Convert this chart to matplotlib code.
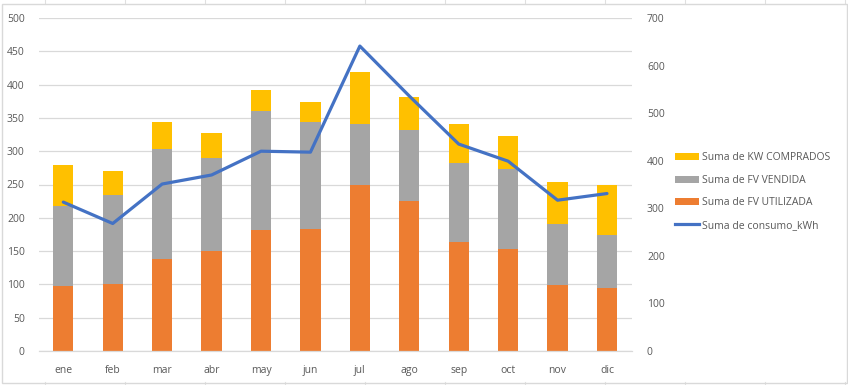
import matplotlib
matplotlib.use("Agg")
import matplotlib.pyplot as plt
from matplotlib.patches import Rectangle, Patch
from matplotlib.lines import Line2D
import numpy as np

months = ["ene", "feb", "mar", "abr", "may", "jun", "jul", "ago", "sep", "oct", "nov", "dic"]
fv_utilizada = [98, 101, 138, 150, 182, 183, 249, 225, 164, 153, 99, 95]
fv_vendida = [120, 133, 165, 140, 178, 161, 92, 107, 118, 120, 92, 79]
kw_comprados = [61, 36, 41, 37, 32, 30, 78, 49, 59, 50, 63, 75]
consumo_kwh = [313, 268, 351, 370, 420, 418, 641, 536, 435, 399, 317, 331]

left_ticks = [0, 50, 100, 150, 200, 250, 300, 350, 400, 450, 500]
right_ticks = [0, 100, 200, 300, 400, 500, 600, 700]

C_ORANGE = "#ED7D31"
C_GRAY = "#A5A5A5"
C_YELLOW = "#FFC000"
C_BLUE = "#4472C4"
C_TEXT = "#595959"
C_GRID = "#D9D9D9"

plt.rcParams['font.family'] = ['Open Sans', 'DejaVu Sans']
FS = 7.5

W, H = 848, 385
fig = plt.figure(figsize=(W / 100, H / 100), dpi=100)
fig.patch.set_facecolor("white")

# spreadsheet cell lines outside the chart
for cx in range(45, 848, 80):
    fig.add_artist(Line2D([cx / W, cx / W], [1 - 3 / H, 1.0], transform=fig.transFigure,
                          color="#E0E0E0", linewidth=0.8, zorder=0))
    fig.add_artist(Line2D([cx / W, cx / W], [0.0, 3 / H], transform=fig.transFigure,
                          color="#E0E0E0", linewidth=0.8, zorder=0))

# chart border
fig.patches.append(Rectangle((2 / W, 2.5 / H), (846.5 - 2) / W, (382.5 - 3.5) / H,
                             transform=fig.transFigure, fill=False,
                             edgecolor="#D9D9D9", linewidth=1.0, zorder=0))

ax_l, ax_r = 38.6, 631.7
ax_t, ax_b = 18, 351
ax = fig.add_axes([ax_l / W, 1 - ax_b / H, (ax_r - ax_l) / W, (ax_b - ax_t) / H])
ax2 = ax.twinx()

x = np.arange(len(months))
bw = 0.41
u = np.array(fv_utilizada)
v = np.array(fv_vendida)
k = np.array(kw_comprados)
ax.bar(x, u, bw, color=C_ORANGE, zorder=2)
ax.bar(x, v, bw, bottom=u, color=C_GRAY, zorder=2)
ax.bar(x, k, bw, bottom=u + v, color=C_YELLOW, zorder=2)

ax2.plot(x, consumo_kwh, color=C_BLUE, linewidth=2.3, solid_joinstyle="round",
         solid_capstyle="round", zorder=3)

ax.set_xlim(-0.5, len(months) - 0.5)
ax.set_ylim(0, 500)
ax2.set_ylim(0, 700)
ax.set_yticks(left_ticks)
ax2.set_yticks(right_ticks)
ax.set_xticks(x)
ax.set_xticklabels(months)

ax.grid(axis="y", color=C_GRID, linewidth=0.9, zorder=0)
ax.set_axisbelow(True)
ax.patch.set_visible(False)
ax2.patch.set_visible(False)
for a in (ax, ax2):
    for s in a.spines.values():
        s.set_visible(False)
ax.spines["bottom"].set_visible(True)
ax.spines["bottom"].set_color(C_GRID)
ax.spines["bottom"].set_linewidth(0.9)

ax.tick_params(axis="both", length=0, labelsize=FS, colors=C_TEXT)
ax.tick_params(axis="y", pad=10)
ax.tick_params(axis="x", pad=10)
ax2.tick_params(axis="y", length=0, labelsize=FS, colors=C_TEXT, pad=11)

handles = [
    Patch(facecolor=C_YELLOW, edgecolor="none"),
    Patch(facecolor=C_GRAY, edgecolor="none"),
    Patch(facecolor=C_ORANGE, edgecolor="none"),
    Line2D([0], [0], color=C_BLUE, linewidth=2.3),
]
labels = ["Suma de KW COMPRADOS", "Suma de FV VENDIDA", "Suma de FV UTILIZADA", "Suma de consumo_kWh"]
leg = fig.legend(handles, labels, loc="center left", bbox_to_anchor=(675 / W, 1 - 191.5 / H),
                 frameon=False, fontsize=FS, handlelength=2.3, handleheight=0.65,
                 handletextpad=0.25, labelspacing=1.1, borderpad=0, borderaxespad=0)
for t in leg.get_texts():
    t.set_color(C_TEXT)

fig.savefig("out.png", dpi=100, facecolor="white")
